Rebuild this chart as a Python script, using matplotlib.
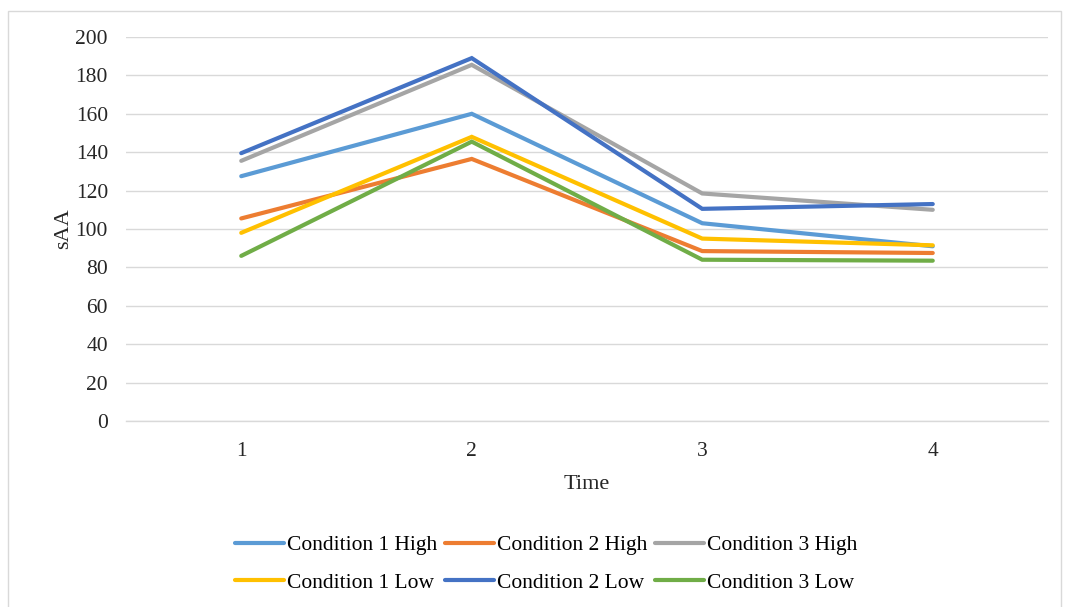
import matplotlib.pyplot as plt
from matplotlib.patches import Rectangle

# sAA over four time points, by condition and level
times = [1, 2, 3, 4]
cond1_high = [127.5, 160, 103, 91]
cond2_high = [105.5, 136.5, 88.5, 87.5]
cond3_high = [135.5, 185.5, 118.5, 110]
cond1_low = [98, 148, 95, 91.5]
cond2_low = [139.5, 189, 110.5, 113]
cond3_low = [86, 145.5, 84, 83.5]

series = [
    ("Condition 1 High", cond1_high, "#5B9BD5"),
    ("Condition 2 High", cond2_high, "#ED7D31"),
    ("Condition 3 High", cond3_high, "#A5A5A5"),
    ("Condition 1 Low", cond1_low, "#FFC000"),
    ("Condition 2 Low", cond2_low, "#4472C4"),
    ("Condition 3 Low", cond3_low, "#70AD47"),
]

plt.rcParams['font.family'] = ['Liberation Serif', 'DejaVu Serif']

W, H = 1068, 607
fig = plt.figure(figsize=(W / 100, H / 100), dpi=100)
ax = fig.add_axes([126 / W, 1 - 421 / H, (1048 - 126) / W, (421 - 37) / H])

# light frame around the whole chart
fig.patches.append(Rectangle((8 / W, -0.01), (1061 - 8) / W, 1 - 11 / H + 0.01,
                             transform=fig.transFigure, fill=False,
                             edgecolor="#d9d9d9", linewidth=1.0))

lines = {}
for name, vals, color in series:
    ln, = ax.plot(times, vals, color=color, linewidth=3.0, label=name,
                  solid_capstyle='round', solid_joinstyle='miter', zorder=3)
    lines[name] = ln

ax.set_xlim(0.5, 4.5)
ax.set_ylim(0, 200)
ax.set_yticks(range(0, 201, 20))
ax.set_xticks(times)
ax.yaxis.grid(True, color="#d9d9d9", linewidth=1.0)
ax.set_axisbelow(True)
for side in ["left", "right", "top"]:
    ax.spines[side].set_visible(False)
ax.spines["bottom"].set_color("#d9d9d9")
ax.spines["bottom"].set_linewidth(1.0)
ax.tick_params(axis='both', length=0, labelsize=15.5, colors="#262626")
ax.tick_params(axis='y', pad=13)
ax.tick_params(axis='x', pad=15)

ax.set_xlabel("Time", fontsize=16, labelpad=10, color="#262626")
ax.set_ylabel("sAA", fontsize=16, labelpad=2, color="#262626")

# legend: two rows, three columns, filled row by row
order = ["Condition 1 High", "Condition 1 Low", "Condition 2 High",
         "Condition 2 Low", "Condition 3 High", "Condition 3 Low"]
fig.legend([lines[n] for n in order], order, ncol=3, loc='center',
           bbox_to_anchor=(546 / W, 1 - 564 / H), frameon=False,
           fontsize=15.5, handlelength=2.3, handletextpad=0.12,
           columnspacing=0.35, labelspacing=0.8)

fig.savefig("out.png", dpi=100)
